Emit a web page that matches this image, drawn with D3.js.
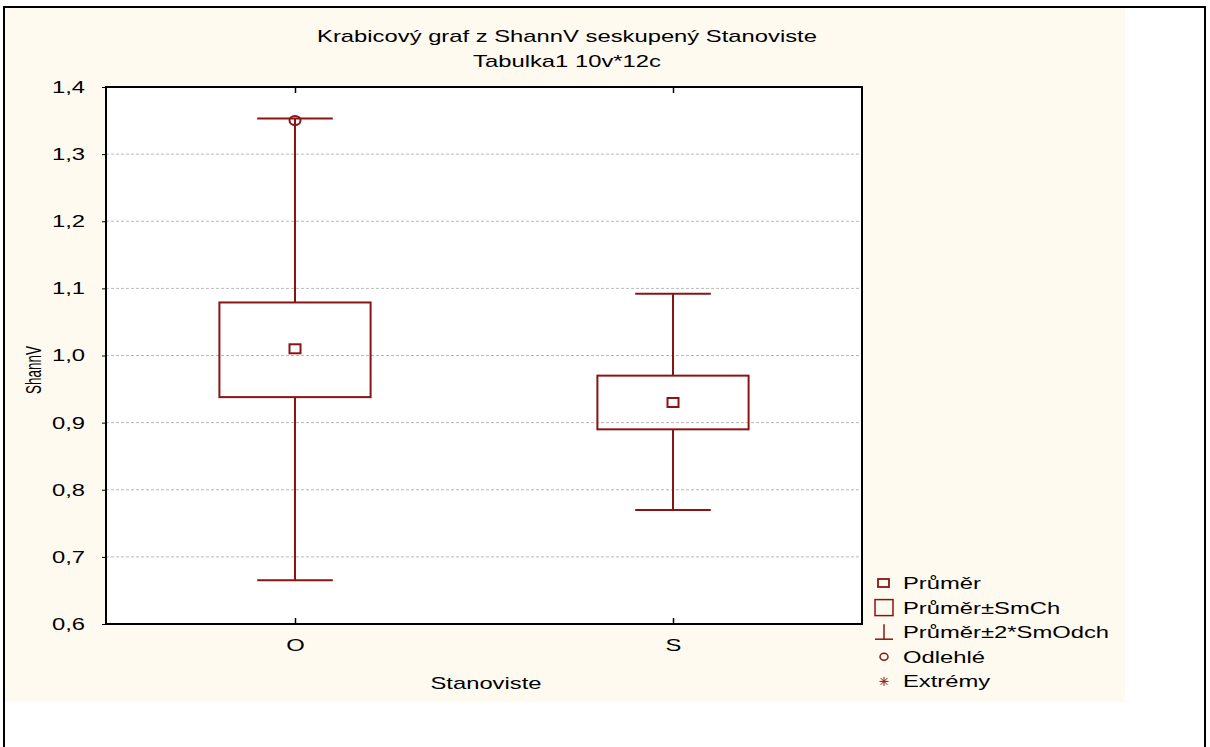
<!DOCTYPE html>
<html>
<head>
<meta charset="utf-8">
<script src="https://cdn.jsdelivr.net/npm/d3@7"></script>
<style>
  html, body { margin: 0; padding: 0; background: #ffffff; }
  svg { display: block; }
  text { font-family: "Liberation Sans", Arial, sans-serif; fill: #000; }
</style>
</head>
<body>
<svg id="chart" width="1210" height="747"></svg>
<script>
// ---- data -------------------------------------------------------------
const categories = ["O", "S"];
const meanValues = [1.01, 0.93];
const seLow  = [0.938, 0.890];   // mean - SE
const seHigh = [1.079, 0.970];   // mean + SE
const sdLow  = [0.665, 0.770];   // mean - 2*SD
const sdHigh = [1.353, 1.092];   // mean + 2*SD
const outlierCats = ["O"];
const outlierValues = [1.35];
const yTicks = [0.6, 0.7, 0.8, 0.9, 1.0, 1.1, 1.2, 1.3, 1.4];
const titleLines = ["Krabicový graf z ShannV seskupený Stanoviste", "Tabulka1 10v*12c"];
const xTitle = "Stanoviste";
const yTitle = "ShannV";
const legendLabels = ["Průměr", "Průměr±SmCh", "Průměr±2*SmOdch", "Odlehlé", "Extrémy"];

// ---- layout -----------------------------------------------------------
const W = 1210, H = 747;
const plot = { left: 106, right: 862, top: 87, bottom: 624 };
const SX = 1.4;           // horizontal widening of all lettering
const FS = 17;            // font size
const RED = "#8a1414";

const svg = d3.select("#chart");

// outer frame and panel
svg.append("rect").attr("x", 0).attr("y", 0).attr("width", W).attr("height", H).attr("fill", "#fff");
svg.append("rect").attr("x", 5).attr("y", 8).attr("width", 1120).attr("height", 694).attr("fill", "#fffaf0");
svg.append("rect").attr("x", 4).attr("y", 7).attr("width", 1201).attr("height", 760)
  .attr("fill", "none").attr("stroke", "#000").attr("stroke-width", 2);

function txt(x, y, s, anchor, size) {
  return svg.append("text")
    .attr("transform", `translate(${x},${y}) scale(${SX},1)`)
    .attr("text-anchor", anchor || "middle")
    .attr("font-size", size || FS)
    .text(s);
}

// titles
txt(567, 42, titleLines[0]);
txt(567, 67, titleLines[1]);

// scales
const x = d3.scalePoint().domain(categories).range([plot.left, plot.right]).padding(0.5);
const y = d3.scaleLinear().domain([0.6, 1.4]).range([plot.bottom, plot.top]);

// plot background
svg.append("rect").attr("x", plot.left).attr("y", plot.top)
  .attr("width", plot.right - plot.left).attr("height", plot.bottom - plot.top)
  .attr("fill", "#fff");

// gridlines
svg.append("g").selectAll("line")
  .data(yTicks.filter(d => d > 0.6 && d < 1.4))
  .join("line")
  .attr("x1", plot.left).attr("x2", plot.right)
  .attr("y1", d => y(d)).attr("y2", d => y(d))
  .attr("stroke", "#b8b8b8").attr("stroke-width", 1).attr("stroke-dasharray", "3,2");

// left axis
const fmt = d => d3.format(".1f")(d).replace(".", ",");
const gy = svg.append("g").attr("transform", `translate(${plot.left},0)`)
  .call(d3.axisLeft(y).tickValues(yTicks).tickSize(4).tickFormat(fmt));
gy.select(".domain").remove();
gy.selectAll(".tick line").attr("stroke", "#000");
gy.selectAll(".tick text")
  .attr("x", -21 / SX).attr("transform", `scale(${SX},1)`)
  .attr("font-size", FS).attr("font-family", null).attr("fill", "#000");

// bottom axis (inward ticks)
const gx = svg.append("g").attr("transform", `translate(0,${plot.bottom})`)
  .call(d3.axisBottom(x).tickSize(-6));
gx.select(".domain").remove();
gx.selectAll(".tick line").attr("stroke", "#000").attr("stroke-width", 1.5);
gx.selectAll(".tick text")
  .attr("y", 27).attr("dy", null).attr("transform", `scale(${SX},1)`)
  .attr("font-size", FS).attr("font-family", null).attr("fill", "#000");

// top axis (inward ticks, no labels)
const gt = svg.append("g").attr("transform", `translate(0,${plot.top})`)
  .call(d3.axisTop(x).tickSize(-6).tickFormat(""));
gt.select(".domain").remove();
gt.selectAll(".tick line").attr("stroke", "#000").attr("stroke-width", 1.5);

// plot frame
svg.append("rect").attr("x", plot.left).attr("y", plot.top)
  .attr("width", plot.right - plot.left).attr("height", plot.bottom - plot.top)
  .attr("fill", "none").attr("stroke", "#000").attr("stroke-width", 2);

// axis titles
txt(486, 689, xTitle);
svg.append("text")
  .attr("transform", `translate(41,370) rotate(-90) scale(0.84,1.35)`)
  .attr("text-anchor", "middle").attr("font-size", 16)
  .text(yTitle);

// ---- boxes ------------------------------------------------------------
const step = x.step();
const boxW = step * 0.4;
const capW = step * 0.2;
const rows = categories.map((c, i) => ({
  c, mean: meanValues[i], lo: seLow[i], hi: seHigh[i], wlo: sdLow[i], whi: sdHigh[i]
}));

const gb = svg.append("g").attr("stroke", RED).attr("fill", "none").attr("stroke-width", 2);
rows.forEach(r => {
  const cx = x(r.c);
  // whiskers
  gb.append("line").attr("x1", cx).attr("x2", cx).attr("y1", y(r.whi)).attr("y2", y(r.hi));
  gb.append("line").attr("x1", cx).attr("x2", cx).attr("y1", y(r.lo)).attr("y2", y(r.wlo));
  gb.append("line").attr("x1", cx - capW / 2).attr("x2", cx + capW / 2).attr("y1", y(r.whi)).attr("y2", y(r.whi));
  gb.append("line").attr("x1", cx - capW / 2).attr("x2", cx + capW / 2).attr("y1", y(r.wlo)).attr("y2", y(r.wlo));
  // box
  gb.append("rect").attr("x", cx - boxW / 2).attr("y", y(r.hi))
    .attr("width", boxW).attr("height", y(r.lo) - y(r.hi));
  // mean
  gb.append("rect").attr("x", cx - 5.5).attr("y", y(r.mean) - 4.5).attr("width", 11).attr("height", 9);
});

// outliers
outlierCats.forEach((c, i) => {
  gb.append("ellipse").attr("cx", x(c)).attr("cy", y(outlierValues[i]))
    .attr("rx", 5.5).attr("ry", 4.5);
});

// ---- legend -----------------------------------------------------------
const lgX = 884, lgY0 = 583, lgDy = 24.6;
const gl = svg.append("g").attr("stroke", RED).attr("fill", "none");
legendLabels.forEach((lab, i) => {
  const cy = lgY0 + i * lgDy;
  txt(903, cy + 6, lab, "start");
  if (i === 0) {
    gl.append("rect").attr("x", lgX - 6).attr("y", cy - 4).attr("width", 11).attr("height", 8).attr("stroke-width", 1.8);
  } else if (i === 1) {
    gl.append("rect").attr("x", lgX - 9).attr("y", cy - 8).attr("width", 18).attr("height", 16).attr("stroke-width", 1.5);
  } else if (i === 2) {
    gl.append("line").attr("x1", lgX).attr("x2", lgX).attr("y1", cy - 8).attr("y2", cy + 7).attr("stroke-width", 1.5);
    gl.append("line").attr("x1", lgX - 9).attr("x2", lgX + 9).attr("y1", cy + 7).attr("y2", cy + 7).attr("stroke-width", 1.5);
  } else if (i === 3) {
    gl.append("ellipse").attr("cx", lgX).attr("cy", cy).attr("rx", 4).attr("ry", 3.5).attr("stroke-width", 1.5);
  } else {
    const a = 4.5;
    gl.append("line").attr("x1", lgX - a).attr("x2", lgX + a).attr("y1", cy).attr("y2", cy).attr("stroke-width", 1);
    gl.append("line").attr("x1", lgX).attr("x2", lgX).attr("y1", cy - a).attr("y2", cy + a).attr("stroke-width", 1);
    gl.append("line").attr("x1", lgX - a * 0.75).attr("x2", lgX + a * 0.75).attr("y1", cy - a * 0.75).attr("y2", cy + a * 0.75).attr("stroke-width", 1);
    gl.append("line").attr("x1", lgX - a * 0.75).attr("x2", lgX + a * 0.75).attr("y1", cy + a * 0.75).attr("y2", cy - a * 0.75).attr("stroke-width", 1);
  }
});
</script>
</body>
</html>
